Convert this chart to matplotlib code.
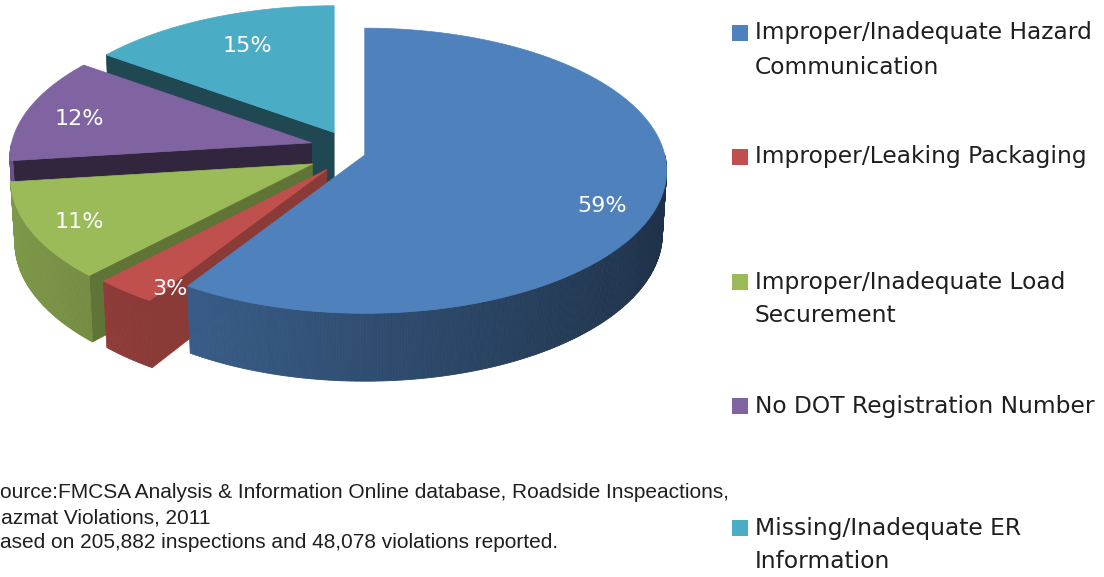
import numpy as np
import matplotlib.pyplot as plt
from matplotlib.colors import to_rgb
from matplotlib.collections import PolyCollection
from matplotlib.patches import Polygon, Rectangle

# data
categories = ['Improper/Inadequate Hazard\nCommunication',
              'Improper/Leaking Packaging',
              'Improper/Inadequate Load\nSecurement',
              'No DOT Registration Number',
              'Missing/Inadequate ER\nInformation']
shares = [59, 3, 11, 12, 15]
source_lines = ['Source:FMCSA Analysis & Information Online database, Roadside Inspeactions,',
                'Hazmat Violations, 2011',
                'Based on 205,882 inspections and 48,078 violations reported.']

# style
colors = ['#4F81BD', '#C0504D', '#9BBB59', '#8064A2', '#4BACC6']
explode = [21, 29, 36, 34, 23]          # px, along slice bisector
face_dark = [0.40, 0.72, 0.62, 0.38, 0.42]
draw_order = [4, 3, 2, 1, 0]
label_r = [0.8, 0.78, 0.83, 0.82, 0.7]
label_dy = [19, 24, 2, 4, -7]

W, H = 1104, 577
X0, Y0 = 344.6, 150.0      # projected pie centre, px
F, D = 2400.0, 8.0         # perspective
alpha = np.radians(28)     # elevation
h = 0.24                   # thickness (radius = 1)
k_ex = 0.85                # vertical factor of the explode offset


def proj(th, z=0.0):
    t = np.radians(th)
    x, y = np.cos(t), np.sin(t)
    w = D + y * np.cos(alpha) - z * np.sin(alpha)
    up = y * np.sin(alpha) + z * np.cos(alpha)
    return F * x / w, -F * up / w


def proj_c(z=0.0):
    w = D - z * np.sin(alpha)
    return 0.0, -F * z * np.cos(alpha) / w


def shade(c, f):
    return tuple(np.clip(np.array(to_rgb(c)) * f, 0, 1))


fig = plt.figure(figsize=(W / 100, H / 100), dpi=100)
ax = fig.add_axes([0, 0, 1, 1])
ax.set_xlim(0, W)
ax.set_ylim(H, 0)
ax.axis('off')

frac = np.array(shares) / sum(shares)
ends = 90 - 360 * np.cumsum(frac)
starts = np.concatenate([[90], ends[:-1]])

for i in draw_order:
    a, b = ends[i], starts[i]
    m = np.radians((a + b) / 2)
    ox = X0 + explode[i] * np.cos(m)
    oy = Y0 - explode[i] * np.sin(m) * k_ex
    col = colors[i]

    def P(th, z=0.0):
        sx, sy = proj(th, z)
        return ox + sx, oy + sy

    c0 = proj_c(0.0)
    c1 = proj_c(-h)
    apex = (ox + c0[0], oy + c0[1])
    apex_b = (ox + c1[0], oy + c1[1])

    # cut faces
    for phi, nrm in ((a, a - 90), (b, b + 90)):
        if np.sin(np.radians(nrm)) < -1e-6:
            face = [apex, P(phi), P(phi, -h), apex_b]
            fc = shade(col, face_dark[i])
            ax.add_patch(Polygon(face, closed=True, fc=fc, ec=fc, lw=0.5))

    # outer wall, front half only
    th = np.linspace(a, b, max(int((b - a) * 2), 2))
    quads, qcols = [], []
    for t0, t1 in zip(th[:-1], th[1:]):
        tm = np.radians((t0 + t1) / 2)
        if np.sin(tm) >= 0:
            continue
        quads.append([P(t0), P(t1), P(t1, -h), P(t0, -h)])
        qcols.append(shade(col, 0.6 - 0.22 * np.cos(tm)))
    if quads:
        ax.add_collection(PolyCollection(quads, facecolors=qcols, edgecolors=qcols,
                                         linewidths=0.6))

    # top
    arc = [P(t) for t in np.linspace(a, b, 240)]
    ax.add_patch(Polygon([apex] + arc, closed=True, fc=col, ec=col, lw=0.5))

    # value label
    lx, ly = P(np.degrees(m))
    lx = apex[0] + label_r[i] * (lx - apex[0])
    ly = apex[1] + label_r[i] * (ly - apex[1]) + label_dy[i]
    ax.text(lx, ly, f'{shares[i]}%', color='white', fontsize=16,
            ha='center', va='center', family='DejaVu Sans')

# legend
leg_y = [33, 157, 282, 406, 528]
for i, lab in enumerate(categories):
    ax.add_patch(Rectangle((732, leg_y[i] - 8), 16, 16, fc=colors[i], ec='none'))
    for j, line in enumerate(lab.split('\n')):
        ax.text(755, leg_y[i] + 34 * j, line, fontsize=16.8, color='#1f1f1f',
                va='center', ha='left', family='DejaVu Sans')

# source note (the original image is cropped on the left)
for j, line in enumerate(source_lines):
    ax.text(-14, 492 + 25.5 * j, line, fontsize=15, color='#1f1f1f', va='center',
            ha='left', family='Liberation Sans')

fig.savefig('out.png', dpi=100, facecolor='white')
